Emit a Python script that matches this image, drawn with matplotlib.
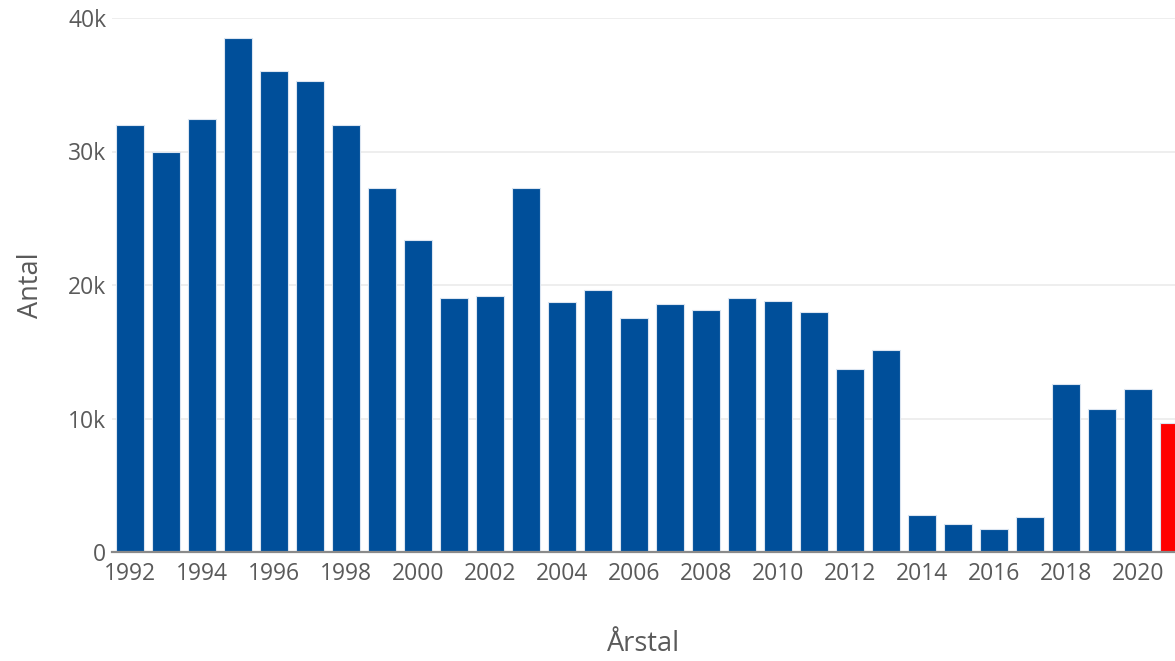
import matplotlib
matplotlib.use("Agg")
import matplotlib.pyplot as plt

years = list(range(1992, 2022))
values = [32000, 30000, 32400, 38500, 36000, 35300, 32000, 27300, 23400, 19000,
          19200, 27300, 18700, 19600, 17500, 18600, 18100, 19000, 18800, 18000,
          13700, 15100, 2800, 2100, 1700, 2600, 12600, 10700, 12200, 9700]
highlight_year = 2021
xtick_years = list(range(1992, 2021, 2))
ytick_values = [0, 10000, 20000, 30000, 40000]
ytick_labels = ["0", "10k", "20k", "30k", "40k"]

BLUE = "#004f9a"
RED = "#ff0000"
TXT = "#5a5a5a"

plt.rcParams['font.family'] = ['Open Sans', 'DejaVu Sans']

fig = plt.figure(figsize=(11.75, 6.61), dpi=100)
ax = fig.add_axes([112/1175, 109/661, 1063/1175, 534/661])

colors = [RED if y == highlight_year else BLUE for y in years]
ax.bar(years, values, width=0.8, color=colors, edgecolor="#dbe5f1", linewidth=0.8, zorder=3)

ax.set_xlim(1991.5, 2021.03)
ax.set_ylim(0, 40000)
ax.set_yticks(ytick_values)
ax.set_yticklabels(ytick_labels)
ax.set_xticks(xtick_years)
ax.set_xticklabels([str(y) for y in xtick_years])

ax.grid(axis='y', color='#ebebeb', linewidth=1.2, zorder=0)
ax.grid(axis='x', visible=False)
for s in ['top', 'right', 'left']:
    ax.spines[s].set_visible(False)
ax.spines['bottom'].set_color('#8a8a8a')
ax.spines['bottom'].set_linewidth(1.6)
ax.spines['bottom'].set_zorder(4)

ax.tick_params(axis='both', length=0, labelsize=16.5, labelcolor=TXT)
ax.tick_params(axis='x', pad=7)
ax.tick_params(axis='y', pad=4)

ax.set_xlabel("Årstal", fontsize=19.5, color=TXT, labelpad=32)
ax.set_ylabel("Antal", fontsize=19.5, color=TXT, labelpad=17)

fig.savefig("out.png", dpi=100)
